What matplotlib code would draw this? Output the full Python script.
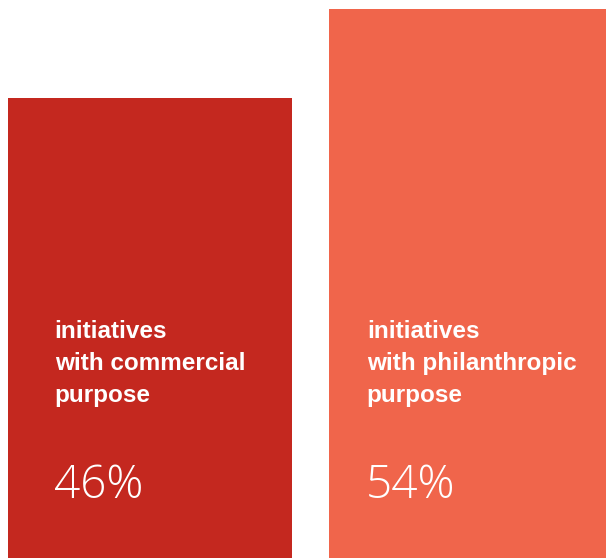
import matplotlib.pyplot as plt

categories = ['initiatives\nwith commercial\npurpose', 'initiatives\nwith philanthropic\npurpose']
shares = [46, 54]
colors = ['#C4281F', '#F0654B']

fig = plt.figure(figsize=(6.06, 5.58), dpi=100)
ax = fig.add_axes([0, 0, 1, 1])

width = 0.885
x = [0, 1]
ax.bar(x, shares, width=width, color=colors, align='center')

for xi, label, val in zip(x, categories, shares):
    left = xi - width / 2
    pad = 0.146 if xi == 0 else 0.118
    ax.text(left + pad, 26.0, label, color='white', fontsize=17.5,
            fontweight='bold', family=['Liberation Sans', 'DejaVu Sans'],
            va='top', ha='left', linespacing=1.5)
    ax.text(left + pad - 0.002, 10.0, f'{val}%', color='white', fontsize=33,
            fontweight='light', family=['Open Sans', 'DejaVu Sans'],
            va='baseline', ha='left')

# baseline sits below the visible area, as in the original
ax.set_xlim(-0.467, 1.4206)
ax.set_ylim(4.65, 54.81)
ax.axis('off')

fig.savefig('out.png', dpi=100)
